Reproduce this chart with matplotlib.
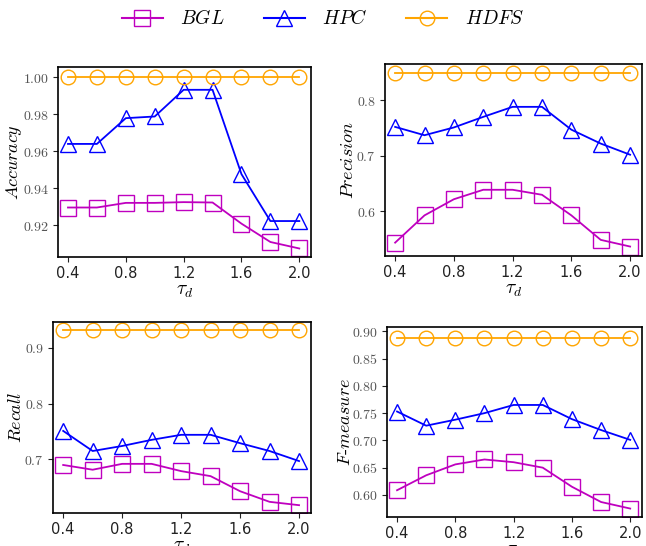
import matplotlib
matplotlib.use("Agg")
import matplotlib.pyplot as plt
from matplotlib.ticker import FuncFormatter, MultipleLocator
from matplotlib.lines import Line2D

plt.rcParams['mathtext.fontset'] = 'cm'

tau = [0.4, 0.6, 0.8, 1.0, 1.2, 1.4, 1.6, 1.8, 2.0]
series_names = ['BGL', 'HPC', 'HDFS']

acc_bgl = [0.9296, 0.9296, 0.9321, 0.9321, 0.9325, 0.9323, 0.9209, 0.9110, 0.9075]
acc_hpc = [0.9639, 0.9639, 0.9778, 0.9787, 0.9931, 0.9931, 0.9476, 0.9223, 0.9223]
acc_hdfs = [1.0] * 9

prec_bgl = [0.544, 0.593, 0.622, 0.639, 0.639, 0.630, 0.593, 0.549, 0.537]
prec_hpc = [0.752, 0.737, 0.751, 0.770, 0.788, 0.788, 0.747, 0.722, 0.702]
prec_hdfs = [0.849] * 9

rec_bgl = [0.690, 0.6815, 0.692, 0.692, 0.679, 0.670, 0.643, 0.624, 0.618]
rec_hpc = [0.751, 0.715, 0.724, 0.735, 0.744, 0.744, 0.729, 0.715, 0.697]
rec_hdfs = [0.931] * 9

f_bgl = [0.6086, 0.636, 0.656, 0.665, 0.660, 0.650, 0.615, 0.587, 0.575]
f_hpc = [0.753, 0.727, 0.738, 0.750, 0.765, 0.765, 0.739, 0.719, 0.701]
f_hdfs = [0.8877] * 9

W, H = 646, 546
fig = plt.figure(figsize=(W / 100, H / 100), dpi=100)

def pax(l, t, r, b):
    return fig.add_axes([l / W, 1 - b / H, (r - l) / W, (b - t) / H])

panels = [
    (pax(58, 67, 311, 257), '$Accuracy$', (acc_bgl, acc_hpc, acc_hdfs), (0.9029, 1.0054), 0.02, '%.2f', -0.135),
    (pax(385, 64, 642, 256), '$Precision$', (prec_bgl, prec_hpc, prec_hdfs), (0.520, 0.865), 0.1, '%.1f', -0.109),
    (pax(53, 322, 311, 513), '$Recall$', (rec_bgl, rec_hpc, rec_hdfs), (0.604, 0.946), 0.1, '%.1f', -0.109),
    (pax(387, 327, 642, 517), r'$F\text{-}measure$', (f_bgl, f_hpc, f_hdfs), (0.5595, 0.908), 0.05, '%.2f', -0.13),
]

styles = [
    dict(color='m', marker='s', markersize=11),
    dict(color='b', marker='^', markersize=12),
    dict(color='orange', marker='o', markersize=10.5),
]

for ax, ylab, ys, ylim, step, fmt, lx in panels:
    for name, y, st in zip(series_names, ys, styles):
        ax.plot(tau, y, color=st['color'], marker=st['marker'], markersize=st['markersize'],
                markerfacecolor='none', markeredgecolor=st['color'], linewidth=1.3,
                markeredgewidth=1.0, label='$' + name + '$')
    ax.set_ylim(*ylim)
    ax.set_xlim(0.331, 2.081)
    ax.xaxis.set_major_locator(MultipleLocator(0.4))
    ax.xaxis.set_major_formatter(FuncFormatter(lambda v, p: '%.1f' % v))
    ax.yaxis.set_major_locator(MultipleLocator(step))
    ax.yaxis.set_major_formatter(FuncFormatter(lambda v, p, f=fmt: '$' + (f % v) + '$'))
    ax.tick_params(axis='x', labelsize=10.5, colors='#222222', pad=3)
    ax.tick_params(axis='y', labelsize=10, colors='#222222', pad=3)
    for lbl in ax.get_yticklabels():
        lbl.set_color('#555555')
    ax.set_ylabel(ylab, fontsize=13)
    ax.yaxis.set_label_coords(lx, 0.5)
    ax.set_xlabel(r'$\tau_d$', fontsize=14, labelpad=0)
    for s in ax.spines.values():
        s.set_linewidth(1.2)

handles = [Line2D([], [], color=st['color'], marker=st['marker'], markersize=st['markersize'],
                  markerfacecolor='none', linewidth=1.5, markeredgewidth=1.0)
           for st in styles]
fig.legend(handles, ['$' + n + '$' for n in series_names], loc='center', ncol=3,
           bbox_to_anchor=(0.5, 1 - 19 / H), frameon=False, fontsize=14,
           handlelength=2.1, columnspacing=2.0, handletextpad=0.9)

fig.savefig('out.png', dpi=100)
